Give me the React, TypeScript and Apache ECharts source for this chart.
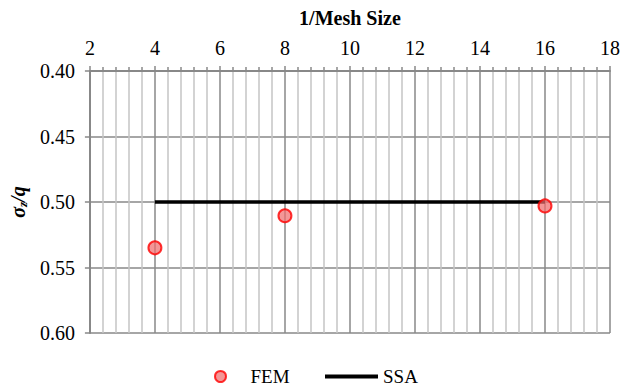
import React, { useEffect, useRef } from "react";
import * as echarts from "echarts";

const femX = [4, 8, 16];
const femY = [0.535, 0.5105, 0.503];
const ssaX = [4, 16];
const ssaY = [0.5, 0.5];

const FONT = "Times New Roman, Liberation Serif, DejaVu Serif, serif";

export default function App() {
  const ref = useRef<HTMLDivElement>(null);
  useEffect(() => {
    document.body.style.margin = "0";
    if (!ref.current) return;
    const chart = echarts.init(ref.current, undefined, { renderer: "svg" });
    chart.setOption({
      animation: false,
      backgroundColor: "#fff",
      textStyle: { fontFamily: FONT },
      grid: { left: 88, right: 7, top: 71, bottom: 54, containLabel: false },
      legend: [
        {
          left: 214,
          top: 367,
          itemWidth: 50,
          itemHeight: 11,
          padding: 0,
          textStyle: { fontFamily: FONT, fontSize: 19, lineHeight: 19, color: "#000" },
          data: [{ name: "FEM", icon: "circle" }],
        },
        {
          left: 325,
          top: 367,
          itemWidth: 53,
          itemHeight: 4,
          padding: 0,
          textStyle: { fontFamily: FONT, fontSize: 19, lineHeight: 19, color: "#000" },
          data: [{ name: "SSA", icon: "rect" }],
        },
      ],
      xAxis: {
        type: "value",
        position: "top",
        min: 2,
        max: 18,
        interval: 2,
        name: "1/Mesh Size",
        nameLocation: "middle",
        nameGap: 43,
        nameTextStyle: { fontFamily: FONT, fontSize: 20, fontWeight: "bold", color: "#000" },
        axisLine: { show: true, lineStyle: { color: "#888", width: 2 } },
        axisTick: { show: true, inside: false, length: 5, lineStyle: { color: "#888", width: 1.5 } },
        minorTick: { show: true, splitNumber: 5, length: 4, lineStyle: { color: "#888", width: 1.5 } },
        axisLabel: { fontFamily: FONT, fontSize: 20, color: "#000", margin: 13 },
        splitLine: { show: true, lineStyle: { color: "#888", width: 1.5 } },
        minorSplitLine: { show: true, lineStyle: { color: "#c4c4c4", width: 1.5 } },
      },
      yAxis: {
        type: "value",
        inverse: true,
        min: 0.4,
        max: 0.6,
        interval: 0.05,
        name: "{a|σ}{b|z}{a|/q}",
        nameLocation: "middle",
        nameGap: 55,
        nameRotate: 90,
        nameTextStyle: {
          color: "#000",
          rich: {
            a: { fontFamily: FONT, fontSize: 20, fontWeight: "bold", fontStyle: "italic", color: "#000" },
            b: { fontFamily: FONT, fontSize: 13, fontWeight: "bold", fontStyle: "italic", color: "#000", verticalAlign: "bottom", padding: [9, 0, 0, 0] },
          },
        },
        axisLine: { show: true, lineStyle: { color: "#888", width: 2 } },
        axisTick: { show: true, inside: false, length: 5, lineStyle: { color: "#888", width: 1.5 } },
        axisLabel: {
          fontFamily: FONT,
          fontSize: 20,
          color: "#000",
          margin: 15,
          formatter: (v: number) => v.toFixed(2),
        },
        splitLine: { show: true, lineStyle: { color: "#888", width: 1.5 } },
      },
      series: [
        {
          name: "SSA",
          type: "line",
          data: ssaX.map((x, i) => [x, ssaY[i]]),
          symbol: "none",
          lineStyle: { color: "#000", width: 3.5 },
          itemStyle: { color: "#000" },
          z: 2,
        },
        {
          name: "FEM",
          type: "scatter",
          data: femX.map((x, i) => [x, femY[i]]),
          symbol: "circle",
          symbolSize: 13,
          itemStyle: { color: "rgba(240,110,110,0.9)", borderColor: "#ff0000", borderWidth: 2 },
          z: 3,
        },
      ],
    });
    return () => chart.dispose();
  }, []);
  return <div ref={ref} style={{ width: 623, height: 387 }} />;
}
